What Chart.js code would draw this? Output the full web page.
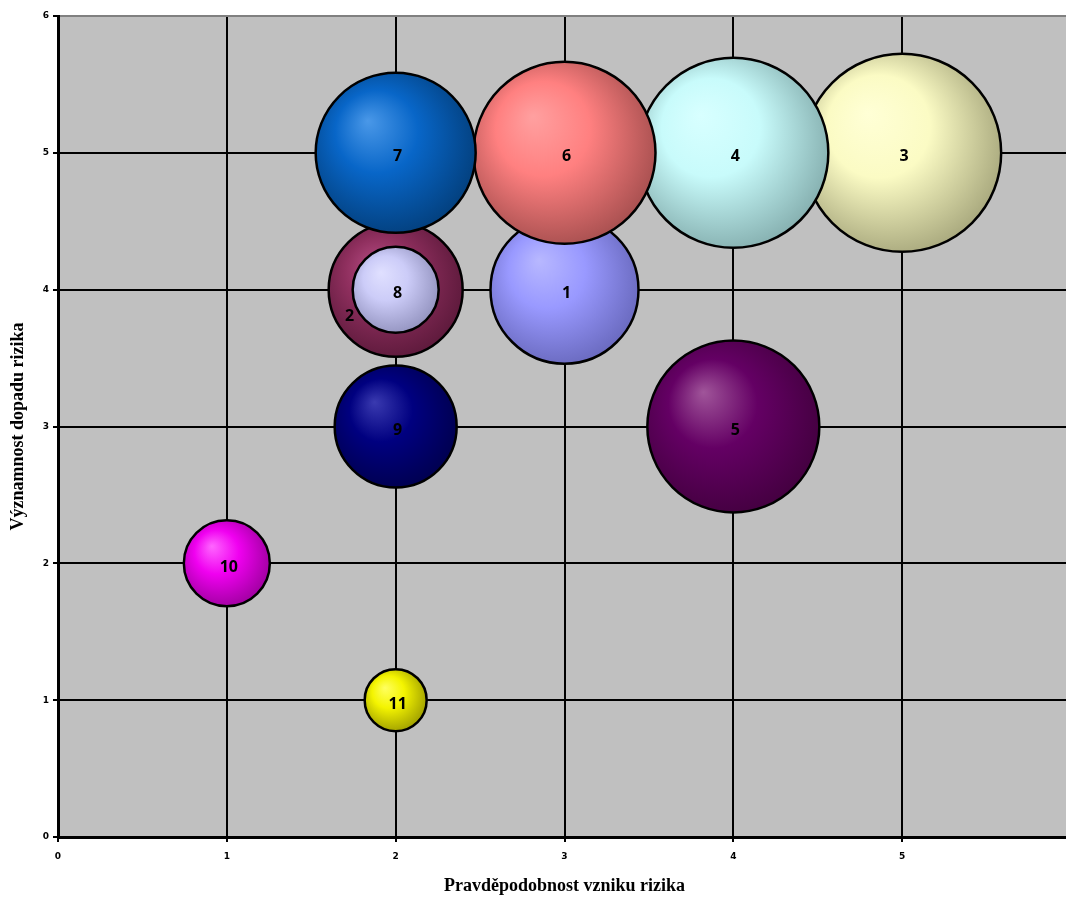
<!DOCTYPE html>
<html>
<head>
<meta charset="utf-8">
<script src="https://cdn.jsdelivr.net/npm/chart.js@4/dist/chart.umd.min.js"></script>
<style>
  body { margin: 0; background: #fff; overflow: hidden; }
  #wrap { width: 1066px; height: 897px; overflow: hidden; }
</style>
</head>
<body>
<div id="wrap"><canvas id="riskChart" width="1080" height="897"></canvas></div>
<script>
// risk number, probability (x), impact (y), bubble radius
const riskLabels = ['1', '2', '3', '4', '5', '6', '7', '8', '9', '10', '11'];
const probability = [3, 2, 5, 4, 4, 3, 2, 2, 2, 1, 2];
const impact = [4, 4, 5, 5, 3, 5, 5, 4, 3, 2, 1];
const bubbleSize = [74, 67, 99, 95, 86, 91, 80, 43, 61, 43, 31];
const xTicks = [0, 1, 2, 3, 4, 5];
const yTicks = [0, 1, 2, 3, 4, 5, 6];

// colours of each bubble [light, base, dark]
const palette = [
    ['#b8b8ff', '#9999ff', '#6a6abf'],
    ['#b0487e', '#8f2f5e', '#5e1a3c'],
    ['#ffffd6', '#fbfbc4', '#a9a97e'],
    ['#d8ffff', '#c8fbfb', '#86b0b0'],
    ['#a0559a', '#640064', '#440040'],
    ['#ffa0a0', '#ff8080', '#a85050'],
    ['#4a98e8', '#0866c8', '#03407e'],
    ['#e0e0ff', '#ccccf8', '#9494c0'],
    ['#3a3ab0', '#000080', '#000050'],
    ['#ff66ff', '#f000f0', '#a000a0'],
    ['#ffff60', '#f4f400', '#a0a000']
];

const points = riskLabels.map((lab, i) => ({ x: probability[i], y: impact[i], r: bubbleSize[i] }));

function sphereFill(context) {
    const i = context.dataIndex;
    const chart = context.chart;
    if (context.type !== 'data' || !chart.scales.x || !chart.chartArea) return palette[i] ? palette[i][1] : '#999';
    const cx = chart.scales.x.getPixelForValue(probability[i]);
    const cy = chart.scales.y.getPixelForValue(impact[i]);
    if (!isFinite(cx) || !isFinite(cy)) return palette[i][1];
    const r = bubbleSize[i];
    const c = palette[i];
    const g = chart.ctx.createRadialGradient(cx - r * 0.35, cy - r * 0.4, 0, cx - r * 0.1, cy - r * 0.1, r * 1.15);
    g.addColorStop(0, c[0]);
    g.addColorStop(0.45, c[1]);
    g.addColorStop(1, c[2]);
    return g;
}

const plotBackground = {
    id: 'plotBackground',
    beforeDraw(chart) {
        const a = chart.chartArea;
        const ctx = chart.ctx;
        ctx.save();
        ctx.fillStyle = '#c0c0c0';
        ctx.fillRect(a.left, a.top, a.right - a.left, a.bottom - a.top);
        ctx.restore();
    }
};

const bubbleLabels = {
    id: 'bubbleLabels',
    afterDatasetsDraw(chart) {
        const ctx = chart.ctx;
        const meta = chart.getDatasetMeta(0);
        ctx.save();
        ctx.font = 'bold 16px "Open Sans", sans-serif';
        ctx.fillStyle = '#000';
        ctx.textAlign = 'center';
        ctx.textBaseline = 'middle';
        meta.data.forEach((el, i) => {
            let x = el.x + 2, y = el.y + 4;
            if (riskLabels[i] === '2') {
                // label of 2 sits beside the inner bubble 8
                x = el.x - 46;
                y = el.y + 27;
            }
            ctx.fillText(riskLabels[i], x, y);
        });
        ctx.restore();
    }
};

new Chart(document.getElementById('riskChart'), {
    type: 'bubble',
    data: {
        datasets: [{
            data: points,
            backgroundColor: sphereFill,
            hoverBackgroundColor: sphereFill,
            borderColor: '#000',
            borderWidth: 2.5,
            hoverBorderWidth: 2.5,
            hoverRadius: 0,
            clip: false
        }]
    },
    options: {
        responsive: false,
        animation: false,
        events: [],
        layout: { autoPadding: false, padding: { top: 16, right: 0, left: 0, bottom: 0 } },
        plugins: {
            legend: { display: false },
            tooltip: { enabled: false }
        },
        scales: {
            x: {
                type: 'linear',
                min: 0,
                max: 6,
                afterFit: s => { s.height = 60; },
                afterBuildTicks: s => { s.ticks = xTicks.concat([6]).map(v => ({ value: v })); },
                grid: {
                    color: ctx => ctx.tick && ctx.tick.value === 6 ? '#808080' : '#000',
                    lineWidth: 2,
                    tickLength: 5,
                    tickColor: '#000'
                },
                border: { color: '#000', width: 3 },
                ticks: {
                    padding: 9,
                    color: '#000',
                    font: { family: '"DejaVu Sans", sans-serif', size: 9, weight: 'bold' },
                    callback: v => xTicks.includes(v) ? String(v) : ''
                },
                title: {
                    display: true,
                    text: 'Pravděpodobnost vzniku rizika',
                    color: '#000',
                    font: { family: '"Liberation Serif", "Times New Roman", serif', size: 18, weight: 'bold' },
                    padding: { top: 0, bottom: 0 }
                }
            },
            y: {
                type: 'linear',
                min: 0,
                max: 6,
                afterFit: s => { s.width = 58; },
                afterBuildTicks: s => { s.ticks = yTicks.map(v => ({ value: v })); },
                grid: {
                    color: ctx => ctx.tick && ctx.tick.value === 6 ? '#808080' : '#000',
                    lineWidth: 2,
                    tickLength: 5,
                    tickColor: '#000'
                },
                border: { color: '#000', width: 3 },
                ticks: {
                    padding: 4,
                    color: '#000',
                    font: { family: '"DejaVu Sans", sans-serif', size: 9, weight: 'bold' }
                },
                title: {
                    display: true,
                    text: 'Významnost dopadu rizika',
                    color: '#000',
                    font: { family: '"Liberation Serif", "Times New Roman", serif', size: 18, weight: 'bold' },
                    padding: { top: 8, bottom: 8 }
                }
            }
        }
    },
    plugins: [plotBackground, bubbleLabels]
});
</script>
</body>
</html>
